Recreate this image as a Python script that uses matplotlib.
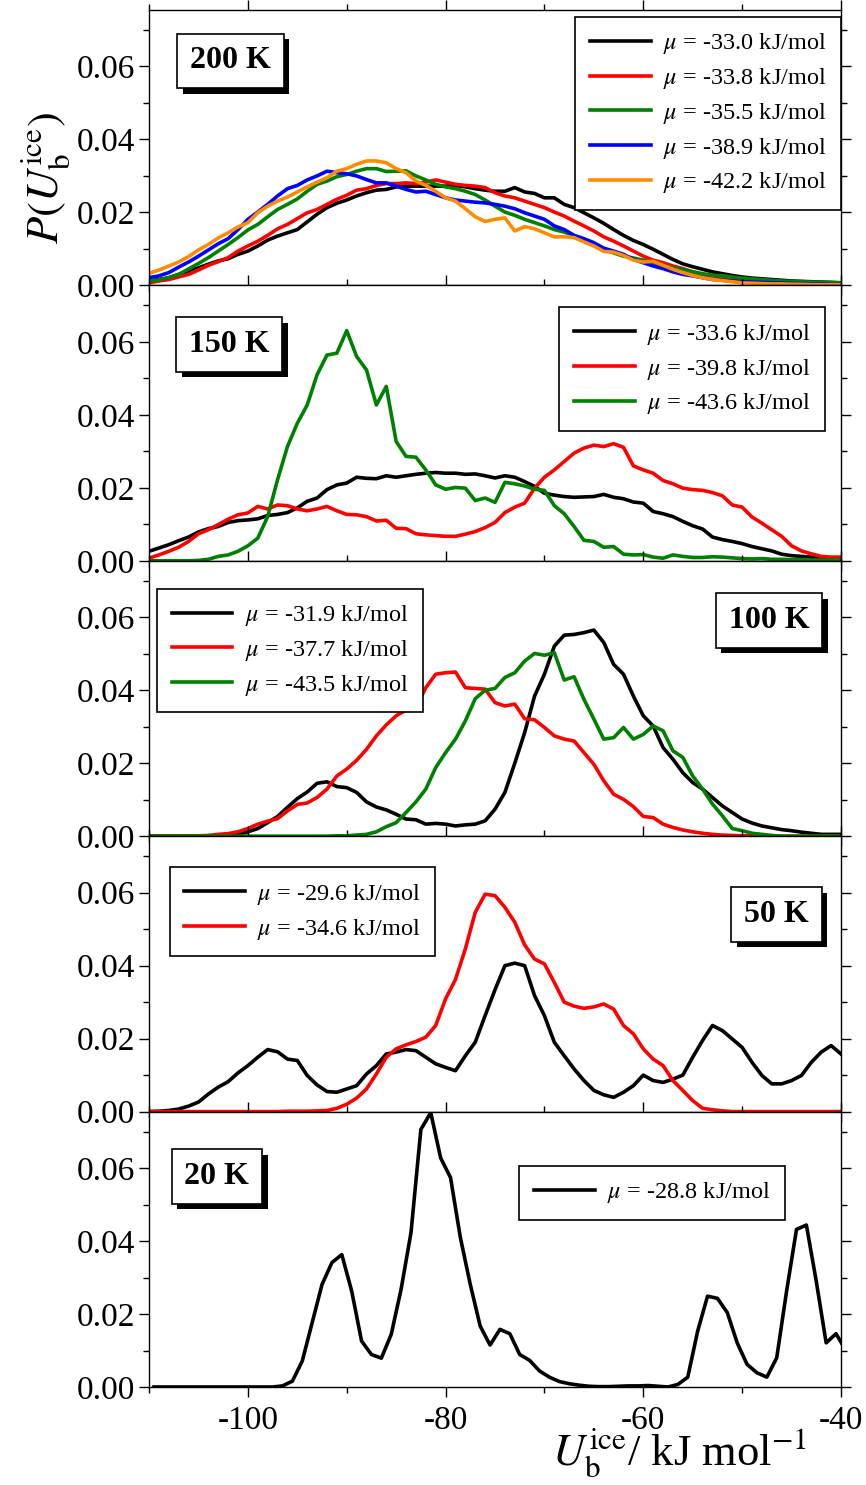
import numpy as np
import matplotlib
matplotlib.use("Agg")
import matplotlib.pyplot as plt
from matplotlib import patheffects
from matplotlib.ticker import MultipleLocator, FormatStrFormatter

plt.rcParams['font.family'] = ['Liberation Serif', 'DejaVu Serif']
plt.rcParams['mathtext.fontset'] = 'stix'
plt.rcParams['axes.unicode_minus'] = False

##############################################################################
# data: binding energy histograms P(U_b^ice)
##############################################################################

u_bins = np.arange(-110, -39)        # -110 ... -40 kJ/mol
u_bins_20 = np.arange(-109.5, -39)   # 20 K histogram is on half-integer bins

# 200 K
mu_200 = ["-33.0", "-33.8", "-35.5", "-38.9", "-42.2"]
p200_a = [0.0012, 0.0016, 0.0021, 0.0030, 0.0039, 0.0048, 0.0058, 0.0067, 0.0073, 0.0085,
          0.0094, 0.0108, 0.0124, 0.0135, 0.0144, 0.0153, 0.0174, 0.0195, 0.0213, 0.0225,
          0.0234, 0.0245, 0.0254, 0.0261, 0.0263, 0.0270, 0.0272, 0.0272, 0.0272, 0.0272,
          0.0272, 0.0274, 0.0270, 0.0265, 0.0261, 0.0258, 0.0258, 0.0268, 0.0256, 0.0252,
          0.0240, 0.0240, 0.0222, 0.0213, 0.0199, 0.0185, 0.0170, 0.0153, 0.0137, 0.0123,
          0.0112, 0.0099, 0.0085, 0.0071, 0.0059, 0.0051, 0.0044, 0.0037, 0.0032, 0.0027,
          0.0023, 0.0020, 0.0018, 0.0016, 0.0014, 0.0012, 0.0011, 0.0010, 0.0009, 0.0008, 0.0007]
p200_b = [0.0007, 0.0012, 0.0016, 0.0023, 0.0030, 0.0042, 0.0055, 0.0065, 0.0076, 0.0094,
          0.0108, 0.0121, 0.0137, 0.0155, 0.0167, 0.0183, 0.0199, 0.0208, 0.0222, 0.0236,
          0.0247, 0.0261, 0.0265, 0.0274, 0.0279, 0.0279, 0.0281, 0.0279, 0.0283, 0.0289,
          0.0283, 0.0277, 0.0274, 0.0272, 0.0268, 0.0254, 0.0245, 0.0240, 0.0231, 0.0222,
          0.0213, 0.0201, 0.0190, 0.0176, 0.0163, 0.0149, 0.0133, 0.0121, 0.0108, 0.0094,
          0.0080, 0.0069, 0.0062, 0.0053, 0.0046, 0.0037, 0.0030, 0.0026, 0.0021, 0.0016,
          0.0014, 0.0012, 0.0011, 0.0010, 0.0009, 0.0008, 0.0007, 0.0006, 0.0005, 0.0005, 0.0004]
p200_c = [0.0012, 0.0015, 0.0021, 0.0030, 0.0045, 0.0060, 0.0076, 0.0094, 0.0112, 0.0131,
          0.0152, 0.0167, 0.0188, 0.0208, 0.0222, 0.0237, 0.0258, 0.0277, 0.0286, 0.0298,
          0.0304, 0.0313, 0.0320, 0.0320, 0.0312, 0.0313, 0.0314, 0.0300, 0.0289, 0.0277,
          0.0270, 0.0265, 0.0258, 0.0249, 0.0234, 0.0217, 0.0201, 0.0192, 0.0181, 0.0172,
          0.0163, 0.0153, 0.0146, 0.0137, 0.0121, 0.0110, 0.0099, 0.0089, 0.0080, 0.0075,
          0.0069, 0.0062, 0.0055, 0.0048, 0.0044, 0.0037, 0.0032, 0.0028, 0.0026, 0.0023,
          0.0020, 0.0018, 0.0016, 0.0014, 0.0012, 0.0011, 0.0010, 0.0009, 0.0009, 0.0008, 0.0007]
p200_d = [0.0021, 0.0026, 0.0035, 0.0050, 0.0064, 0.0080, 0.0097, 0.0114, 0.0128, 0.0153,
          0.0181, 0.0201, 0.0222, 0.0245, 0.0265, 0.0274, 0.0289, 0.0300, 0.0313, 0.0309,
          0.0306, 0.0300, 0.0290, 0.0281, 0.0281, 0.0272, 0.0263, 0.0256, 0.0258, 0.0249,
          0.0240, 0.0234, 0.0231, 0.0228, 0.0226, 0.0222, 0.0217, 0.0210, 0.0199, 0.0190,
          0.0181, 0.0163, 0.0153, 0.0137, 0.0128, 0.0117, 0.0102, 0.0094, 0.0085, 0.0071,
          0.0062, 0.0053, 0.0046, 0.0037, 0.0030, 0.0026, 0.0021, 0.0016, 0.0014, 0.0012,
          0.0010, 0.0009, 0.0008, 0.0007, 0.0006, 0.0005, 0.0005, 0.0004, 0.0004, 0.0003, 0.0003]
p200_e = [0.0033, 0.0042, 0.0053, 0.0064, 0.0079, 0.0097, 0.0112, 0.0130, 0.0144, 0.0160,
          0.0172, 0.0199, 0.0217, 0.0231, 0.0242, 0.0256, 0.0270, 0.0283, 0.0295, 0.0313,
          0.0320, 0.0332, 0.0341, 0.0341, 0.0336, 0.0320, 0.0309, 0.0286, 0.0274, 0.0258,
          0.0240, 0.0231, 0.0210, 0.0188, 0.0175, 0.0181, 0.0185, 0.0149, 0.0161, 0.0155,
          0.0144, 0.0133, 0.0133, 0.0131, 0.0119, 0.0108, 0.0093, 0.0091, 0.0082, 0.0069,
          0.0064, 0.0066, 0.0055, 0.0044, 0.0035, 0.0027, 0.0021, 0.0016, 0.0013, 0.0010,
          0.0007, 0.0006, 0.0005, 0.0004, 0.0004, 0.0003, 0.0003, 0.0002, 0.0002, 0.0002, 0.0002]

# 150 K
mu_150 = ["-33.6", "-39.8", "-43.6"]
p150_a = [0.0026, 0.0035, 0.0044, 0.0055, 0.0065, 0.0079, 0.0088, 0.0094, 0.0105, 0.0110,
          0.0112, 0.0115, 0.0124, 0.0127, 0.0132, 0.0145, 0.0163, 0.0172, 0.0195, 0.0208,
          0.0213, 0.0229, 0.0226, 0.0225, 0.0233, 0.0229, 0.0233, 0.0237, 0.0240, 0.0242,
          0.0240, 0.0240, 0.0237, 0.0238, 0.0233, 0.0227, 0.0233, 0.0229, 0.0217, 0.0204,
          0.0185, 0.0180, 0.0176, 0.0174, 0.0175, 0.0176, 0.0182, 0.0174, 0.0170, 0.0161,
          0.0158, 0.0135, 0.0129, 0.0121, 0.0108, 0.0096, 0.0087, 0.0065, 0.0058, 0.0053,
          0.0047, 0.0039, 0.0033, 0.0027, 0.0018, 0.0014, 0.0012, 0.0010, 0.0007, 0.0005, 0.0003]
p150_b = [0.0007, 0.0016, 0.0026, 0.0037, 0.0053, 0.0074, 0.0085, 0.0099, 0.0114, 0.0126,
          0.0131, 0.0149, 0.0142, 0.0153, 0.0151, 0.0142, 0.0137, 0.0142, 0.0149, 0.0137,
          0.0127, 0.0126, 0.0121, 0.0109, 0.0111, 0.0089, 0.0088, 0.0074, 0.0071, 0.0069,
          0.0067, 0.0067, 0.0073, 0.0080, 0.0091, 0.0105, 0.0132, 0.0147, 0.0158, 0.0199,
          0.0229, 0.0249, 0.0272, 0.0295, 0.0309, 0.0317, 0.0313, 0.0321, 0.0311, 0.0260,
          0.0249, 0.0240, 0.0220, 0.0211, 0.0199, 0.0195, 0.0193, 0.0187, 0.0178, 0.0153,
          0.0147, 0.0120, 0.0103, 0.0085, 0.0067, 0.0041, 0.0027, 0.0019, 0.0012, 0.0010, 0.0010]
p150_c = [0.0, 0.0, 0.0, 0.0, 0.0, 0.0001, 0.0004, 0.0012, 0.0016, 0.0026,
          0.0041, 0.0062, 0.0121, 0.0222, 0.0313, 0.0377, 0.0427, 0.0510, 0.0564, 0.0569,
          0.0631, 0.0560, 0.0523, 0.0427, 0.0478, 0.0327, 0.0286, 0.0284, 0.0249, 0.0208,
          0.0196, 0.0201, 0.0199, 0.0165, 0.0172, 0.0160, 0.0215, 0.0211, 0.0205, 0.0196,
          0.0193, 0.0151, 0.0129, 0.0094, 0.0056, 0.0053, 0.0037, 0.0039, 0.0018, 0.0016,
          0.0017, 0.0010, 0.0007, 0.0016, 0.0012, 0.0009, 0.0009, 0.0011, 0.0010, 0.0008,
          0.0006, 0.0005, 0.0006, 0.0004, 0.0004, 0.0003, 0.0003, 0.0002, 0.0002, 0.0002, 0.0002]

# 100 K
mu_100 = ["-31.9", "-37.7", "-43.5"]
p100_a = [0.0, 0.0, 0.0, 0.0, 0.0, 0.0, 0.0, 0.0001, 0.0003, 0.0005,
          0.0012, 0.0021, 0.0037, 0.0054, 0.0079, 0.0103, 0.0121, 0.0145, 0.0149, 0.0136,
          0.0133, 0.0120, 0.0094, 0.0080, 0.0072, 0.0060, 0.0047, 0.0045, 0.0033, 0.0035,
          0.0033, 0.0028, 0.0031, 0.0033, 0.0042, 0.0074, 0.0120, 0.0200, 0.0284, 0.0384,
          0.0444, 0.0521, 0.0551, 0.0553, 0.0558, 0.0565, 0.0531, 0.0471, 0.0444, 0.0384,
          0.0330, 0.0302, 0.0243, 0.0211, 0.0174, 0.0147, 0.0129, 0.0106, 0.0083, 0.0065,
          0.0047, 0.0036, 0.0028, 0.0023, 0.0018, 0.0015, 0.0011, 0.0008, 0.0005, 0.0005, 0.0005]
p100_b = [0.0, 0.0, 0.0, 0.0, 0.0, 0.0001, 0.0002, 0.0005, 0.0007, 0.0012,
          0.0021, 0.0033, 0.0041, 0.0048, 0.0069, 0.0087, 0.0091, 0.0106, 0.0129, 0.0165,
          0.0184, 0.0208, 0.0238, 0.0275, 0.0305, 0.0330, 0.0346, 0.0353, 0.0407, 0.0444,
          0.0448, 0.0450, 0.0407, 0.0405, 0.0403, 0.0366, 0.0357, 0.0362, 0.0322, 0.0319,
          0.0298, 0.0275, 0.0266, 0.0261, 0.0229, 0.0197, 0.0152, 0.0115, 0.0101, 0.0081,
          0.0054, 0.0051, 0.0033, 0.0024, 0.0017, 0.0012, 0.0008, 0.0005, 0.0003, 0.0002,
          0.0001, 0.0001, 0.0, 0.0, 0.0, 0.0, 0.0, 0.0, 0.0, 0.0, 0.0]
p100_c = [0.0, 0.0, 0.0, 0.0, 0.0, 0.0, 0.0, 0.0, 0.0, 0.0,
          0.0, 0.0, 0.0, 0.0, 0.0, 0.0, 0.0, 0.0, 0.0, 0.0001,
          0.0001, 0.0003, 0.0005, 0.0012, 0.0026, 0.0037, 0.0065, 0.0094, 0.0129, 0.0188,
          0.0229, 0.0266, 0.0316, 0.0377, 0.0400, 0.0405, 0.0435, 0.0448, 0.0480, 0.0501,
          0.0496, 0.0503, 0.0428, 0.0437, 0.0375, 0.0321, 0.0266, 0.0270, 0.0298, 0.0266,
          0.0279, 0.0302, 0.0289, 0.0234, 0.0216, 0.0165, 0.0129, 0.0088, 0.0056, 0.0021,
          0.0015, 0.0008, 0.0005, 0.0002, 0.0, 0.0, 0.0, 0.0, 0.0, 0.0, 0.0]

# 50 K
mu_50 = ["-29.6", "-34.6"]
p50_a = [0.0, 0.0001, 0.0003, 0.0007, 0.0015, 0.0026, 0.0048, 0.0067, 0.0082, 0.0106,
         0.0126, 0.0149, 0.0170, 0.0164, 0.0144, 0.0140, 0.0099, 0.0073, 0.0055, 0.0053,
         0.0062, 0.0071, 0.0103, 0.0126, 0.0158, 0.0163, 0.0170, 0.0167, 0.0149, 0.0131,
         0.0121, 0.0112, 0.0153, 0.0190, 0.0263, 0.0334, 0.0400, 0.0407, 0.0400, 0.0318,
         0.0263, 0.0190, 0.0153, 0.0117, 0.0085, 0.0058, 0.0046, 0.0039, 0.0053, 0.0071,
         0.0100, 0.0085, 0.0080, 0.0089, 0.0100, 0.0149, 0.0195, 0.0236, 0.0222, 0.0199,
         0.0176, 0.0135, 0.0099, 0.0076, 0.0076, 0.0085, 0.0099, 0.0135, 0.0163, 0.0181, 0.0158]
p50_b = [0.0, 0.0, 0.0, 0.0, 0.0, 0.0, 0.0, 0.0, 0.0, 0.0,
         0.0, 0.0, 0.0, 0.0, 0.0001, 0.0001, 0.0001, 0.0002, 0.0003, 0.0009,
         0.0020, 0.0037, 0.0062, 0.0103, 0.0149, 0.0172, 0.0183, 0.0192, 0.0204, 0.0236,
         0.0309, 0.0362, 0.0446, 0.0546, 0.0596, 0.0592, 0.0560, 0.0519, 0.0457, 0.0418,
         0.0405, 0.0354, 0.0300, 0.0289, 0.0283, 0.0287, 0.0295, 0.0281, 0.0236, 0.0213,
         0.0172, 0.0144, 0.0126, 0.0085, 0.0058, 0.0030, 0.0009, 0.0005, 0.0002, 0.0,
         0.0, 0.0, 0.0, 0.0, 0.0, 0.0, 0.0, 0.0, 0.0, 0.0, 0.0]

# 20 K
mu_20 = ["-28.8"]
p20_a = [0.0, 0.0, 0.0, 0.0, 0.0, 0.0, 0.0, 0.0, 0.0, 0.0, 0.0, 0.0, 0.0,
         0.0003, 0.0016, 0.0071, 0.0176, 0.0281, 0.0341, 0.0363, 0.0263, 0.0126, 0.0089,
         0.0079, 0.0144, 0.0268, 0.0423, 0.0706, 0.0752, 0.0628, 0.0574, 0.0409, 0.0281,
         0.0167, 0.0115, 0.0158, 0.0146, 0.0089, 0.0073, 0.0044, 0.0027, 0.0015, 0.0009,
         0.0005, 0.0002, 0.0001, 0.0001, 0.0002, 0.0003, 0.0003, 0.0004, 0.0002, 0.0,
         0.0007, 0.0027, 0.0153, 0.0249, 0.0243, 0.0204, 0.0121, 0.0062, 0.0039, 0.0027,
         0.0080, 0.0263, 0.0432, 0.0444, 0.0290, 0.0121, 0.0146, 0.0100]

##############################################################################
# figure
##############################################################################

fig, axes = plt.subplots(5, 1, figsize=(8.66, 14.85), dpi=100, sharex=True)
fig.subplots_adjust(left=0.1721, right=0.9711, top=0.9933, bottom=0.0660, hspace=0)

lw = 2.6
panels = [
    ("200 K", u_bins, [p200_a, p200_b, p200_c, p200_d, p200_e], mu_200,
     ["black", "#ff0000", "#008000", "#0000ff", "#ff8c00"]),
    ("150 K", u_bins, [p150_a, p150_b, p150_c], mu_150,
     ["black", "#ff0000", "#008000"]),
    ("100 K", u_bins, [p100_a, p100_b, p100_c], mu_100,
     ["black", "#ff0000", "#008000"]),
    ("50 K", u_bins, [p50_a, p50_b], mu_50, ["black", "#ff0000"]),
    ("20 K", u_bins_20, [p20_a], mu_20, ["black"]),
]

# legend placement and temperature label placement (axes fraction)
legend_pos = [("upper right", (1.0, 0.975)),
              ("upper right", (0.977, 0.92)),
              ("upper left", (0.0116, 0.899)),
              ("upper left", (0.030, 0.887)),
              ("upper right", (0.919, 0.804))]
label_pos = [(0.118, 0.815), (0.116, 0.785), (0.896, 0.783), (0.907, 0.715), (0.098, 0.765)]


def temp_box(ax, text, x, y):
    t = ax.text(x, y, text, transform=ax.transAxes, color='black', zorder=7,
                fontsize=23, fontweight='bold', ha='center', va='center',
                bbox=dict(boxstyle='square,pad=0.4', fc='white', ec='black', lw=1.2))
    # drop shadow of the box
    t.get_bbox_patch().set_path_effects([
        patheffects.SimplePatchShadow(offset=(4, -4), shadow_rgbFace='black', alpha=1.0),
        patheffects.Normal()])


for i, (ax, (temp, x, series, mus, colors)) in enumerate(zip(axes, panels)):
    for vals, mu, col in zip(series, mus, colors):
        ax.plot(x, vals, color=col, lw=lw, label=r"$\mu$ = %s kJ/mol" % mu)
    ax.set_xlim(-110, -40)
    ax.set_ylim(0, 0.0755)
    ax.xaxis.set_major_locator(MultipleLocator(20))
    ax.xaxis.set_minor_locator(MultipleLocator(10))
    ax.yaxis.set_major_locator(MultipleLocator(0.02))
    ax.yaxis.set_minor_locator(MultipleLocator(0.01))
    ax.yaxis.set_major_formatter(FormatStrFormatter('%.2f'))
    ax.tick_params(which='both', direction='out', top=True, right=True,
                   labelsize=24, pad=3, width=1)
    ax.tick_params(which='major', length=7)
    ax.tick_params(which='minor', length=4)
    ax.tick_params(axis='x', pad=6)
    for sp in ax.spines.values():
        sp.set_linewidth(1.0)

    loc, anchor = legend_pos[i]
    leg = ax.legend(loc=loc, bbox_to_anchor=anchor, fontsize=17.5, frameon=True,
                    fancybox=False, edgecolor='black', framealpha=1,
                    borderaxespad=0, handlelength=2.5, handletextpad=0.5,
                    labelspacing=0.4, borderpad=0.6)
    leg.get_frame().set_linewidth(1.2)

    temp_box(ax, temp, *label_pos[i])

axes[-1].set_xticks([-100, -80, -60, -40])

fig.text(45 / 866, 1 - 178 / 1485, r'$P(U_\mathrm{b}^\mathrm{ice})$', rotation=90,
         fontsize=32, ha='center', va='center')
fig.text(552 / 866, 20 / 1485, r'$U_\mathrm{b}^\mathrm{ice}$/ kJ mol$^{-1}$',
         fontsize=32, ha='left', va='baseline')

fig.savefig('out.png', dpi=100)
